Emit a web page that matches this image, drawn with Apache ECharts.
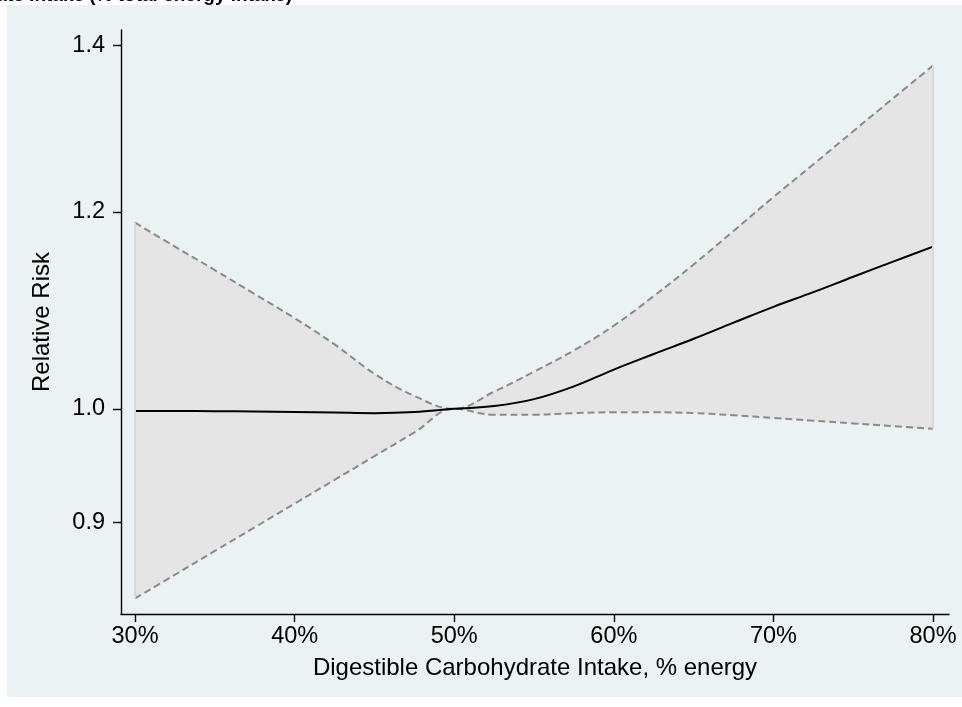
<!DOCTYPE html>
<html><head><meta charset="utf-8">
<script src="https://cdn.jsdelivr.net/npm/echarts@6/dist/echarts.min.js"></script>
<style>html,body{margin:0;padding:0;background:#fff}#c{width:962px;height:707px}</style>
</head><body><div id="c"></div>
<script>
// ---- data (relative risk by % energy from digestible carbohydrate) ----
const carbPct    = [30, 32.5, 35, 37.5, 40, 42.5, 45, 47.5, 50, 52.5, 55, 57.5, 60, 62.5, 65, 67.5, 70, 72.5, 75, 77.5, 80];
const rrEstimate = [0.998, 0.998, 0.9978, 0.9975, 0.997, 0.9965, 0.996, 0.997, 1.000, 1.0025, 1.009, 1.021, 1.037, 1.052, 1.067, 1.083, 1.099, 1.114, 1.130, 1.146, 1.162];
const rrUpper    = [1.188, 1.162, 1.137, 1.112, 1.0875, 1.0615, 1.033, 1.012, 1.000, 1.016, 1.035, 1.0555, 1.080, 1.110, 1.143, 1.179, 1.2165, 1.254, 1.293, 1.333, 1.374];
const rrLower    = [0.839, 0.8576, 0.8767, 0.8961, 0.916, 0.9363, 0.9571, 0.9783, 1.000, 0.9945, 0.9945, 0.996, 0.9968, 0.9968, 0.996, 0.994, 0.9915, 0.989, 0.9865, 0.984, 0.9817];
const yTickValues = [0.9, 1.0, 1.2, 1.4];
const xTickValues = [30, 40, 50, 60, 70, 80];
const titleText = 'Digestible Carbohydrate Intake (% total energy intake)';
const xTitle = 'Digestible Carbohydrate Intake, % energy';
const yTitle = 'Relative Risk';

const FONT = "'Liberation Sans', Arial, Helvetica, sans-serif";
const BG = '#eaf2f3';
const logPts = arr => carbPct.map((x, i) => [x, Math.log(arr[i])]);
const SM = 0.4;
const last = carbPct.length - 1;
const edge = i => [{coord: [carbPct[i], Math.log(rrLower[i])]}, {coord: [carbPct[i], Math.log(rrUpper[i])]}];

const chart = echarts.init(document.getElementById('c'), null, {renderer: 'canvas'});
chart.setOption({
  backgroundColor: '#ffffff',
  animation: false,
  graphic: {
    elements: [
      {type: 'rect', z: -10, silent: true, shape: {x: 7, y: 5, width: 955, height: 692}, style: {fill: BG}},
      {type: 'text', z: 100, silent: true, style: {text: titleText, x: 292, y: 5, align: 'right', verticalAlign: 'bottom',
        font: "bold 19px 'Liberation Sans', Arial, sans-serif", fill: '#000'}}
    ]
  },
  grid: {left: 121, right: 13, top: 30, bottom: 93, containLabel: false, outerBoundsMode: 'none'},
  xAxis: {
    type: 'value', min: 29.12, max: 81.0, z: 5,
    axisLine: {show: true, onZero: false, lineStyle: {color: '#000', width: 1.4}},
    axisTick: {show: true, length: 8, customValues: xTickValues, lineStyle: {color: '#000', width: 1.4}},
    axisLabel: {customValues: xTickValues, formatter: v => Math.round(v) + '%', fontSize: 23.5, fontFamily: FONT, color: '#000', margin: 11},
    splitLine: {show: false},
    name: xTitle, nameLocation: 'middle', nameGap: 42,
    nameTextStyle: {fontSize: 24, fontFamily: FONT, color: '#000'}
  },
  yAxis: {
    type: 'value', min: Math.log(0.827), max: Math.log(1.42), z: 5,
    axisLine: {show: true, onZero: false, lineStyle: {color: '#000', width: 1.4}},
    axisTick: {show: true, length: 8, customValues: yTickValues.map(Math.log), lineStyle: {color: '#000', width: 1.4}},
    axisLabel: {customValues: yTickValues.map(Math.log), formatter: v => Math.exp(v).toFixed(1), fontSize: 23.5, fontFamily: FONT, color: '#000', margin: 16},
    splitLine: {show: false},
    name: yTitle, nameLocation: 'middle', nameGap: 67, nameRotate: 90,
    nameTextStyle: {fontSize: 24, fontFamily: FONT, color: '#000'}
  },
  series: [
    {name: 'bandUpperFill', type: 'line', data: logPts(rrUpper), symbol: 'none', smooth: SM,
      lineStyle: {opacity: 0}, areaStyle: {origin: 'start', color: '#e5e5e5', opacity: 1}, silent: true, z: 1,
      markLine: {silent: true, symbol: 'none', label: {show: false}, lineStyle: {color: '#d8d8d8', width: 2, type: 'solid'},
        data: [edge(0), edge(last)]}},
    {name: 'bandLowerMask', type: 'line', data: logPts(rrLower), symbol: 'none', smooth: SM,
      lineStyle: {opacity: 0}, areaStyle: {origin: 'start', color: BG, opacity: 1}, silent: true, z: 2},
    {name: 'upper', type: 'line', data: logPts(rrUpper), symbol: 'none', smooth: SM,
      lineStyle: {color: '#8a8a8a', width: 2, type: [7, 4]}, z: 3},
    {name: 'lower', type: 'line', data: logPts(rrLower), symbol: 'none', smooth: SM,
      lineStyle: {color: '#8a8a8a', width: 2, type: [7, 4]}, z: 3},
    {name: 'estimate', type: 'line', data: logPts(rrEstimate), symbol: 'none', smooth: SM,
      lineStyle: {color: '#000', width: 2}, z: 4}
  ]
});
</script>
</body></html>
